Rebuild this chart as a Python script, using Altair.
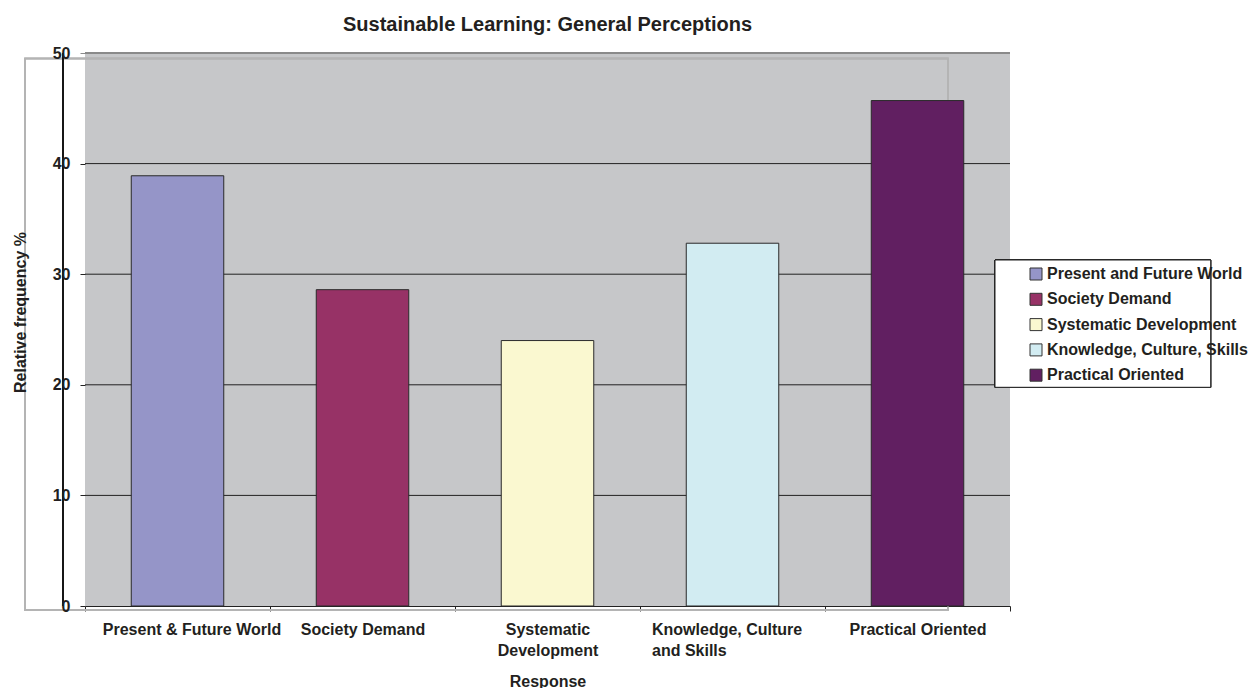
import altair as alt
import pandas as pd

# Survey responses: relative frequency (%) per response category
categories = [
    "Present & Future World",
    "Society Demand",
    "Systematic Development",
    "Knowledge, Culture and Skills",
    "Practical Oriented",
]
legend_names = [
    "Present and Future World",
    "Society Demand",
    "Systematic Development",
    "Knowledge, Culture, Skills",
    "Practical Oriented",
]
values = [38.9, 28.6, 24.0, 32.8, 45.7]
colors = ["#9595C8", "#973266", "#FAF8D0", "#D2ECF2", "#611F61"]
y_ticks = [0, 10, 20, 30, 40, 50]
grid_levels = [10, 20, 30, 40, 50]

# Axis labels that wrap onto two lines
wrapped = {
    "Systematic Development": ["Systematic", "Development"],
    "Knowledge, Culture and Skills": ["Knowledge, Culture", "and Skills"],
}

df = pd.DataFrame({"Response": categories, "Label": legend_names, "Frequency": values})
grid_df = pd.DataFrame({"Frequency": grid_levels})

FONT = "Liberation Sans"
INK = "#231F20"
W, H = 925, 553
FS = 16

label_expr = " : ".join(
    f"datum.value == '{k}' ? {v!r}" for k, v in wrapped.items()
) + " : datum.value"

is_first = "datum.value == 'Present & Future World'"
is_knowledge = "datum.value == 'Knowledge, Culture and Skills'"
is_top = "datum.value == 50"

y_scale = alt.Scale(domain=[0, 50], nice=False)
y_axis = alt.Axis(
    title="Relative frequency %",
    titleFont=FONT, titleFontSize=FS, titleFontWeight="bold", titleColor=INK,
    titleX=-60, titleY=259, titleAngle=-90, titleAlign="center",
    titleBaseline="alphabetic",
    values=y_ticks,
    labelFont=FONT, labelFontSize=FS, labelFontWeight="bold", labelColor=INK,
    labelPadding=10,
    domain=False, tickSize=5,
    tickColor=alt.condition(is_top, alt.value("#8a8a8a"), alt.value("#222")),
    grid=False,
    zindex=1,
)

# Horizontal gridlines, drawn beneath the bars
grid = alt.Chart(grid_df).mark_rule().encode(
    y=alt.Y("Frequency:Q", scale=y_scale, axis=y_axis, title="Relative frequency %"),
    color=alt.condition("datum.Frequency == 50", alt.value("#8a8a8a"), alt.value("#222")),
    strokeWidth=alt.condition("datum.Frequency == 50", alt.value(2), alt.value(1)),
)

bars = alt.Chart(df).mark_bar(
    stroke="#2a2a2a", strokeWidth=1, width=alt.RelativeBandSize(0.5)
).encode(
    x=alt.X(
        "Response:N",
        sort=categories,
        scale=alt.Scale(paddingInner=0, paddingOuter=0),
        axis=alt.Axis(
            title="Response",
            titleFont=FONT, titleFontSize=FS, titleFontWeight="bold", titleColor=INK,
            titleY=75, titleBaseline="middle",
            labelExpr=label_expr,
            labelAngle=0, labelFont=FONT, labelFontSize=FS, labelFontWeight="bold",
            labelColor=INK, labelPadding=10, labelLineHeight=21.5, labelLimit=300,
            labelBaseline="top",
            labelAlign=alt.condition(is_knowledge, alt.value("left"), alt.value("center")),
            labelOffset={
                "condition": [
                    {"test": is_first, "value": 14},
                    {"test": is_knowledge, "value": -81},
                ],
                "value": 0,
            },
            tickBand="extent", tickSize=5, tickColor="#222", domainColor="#222",
            grid=False,
        ),
    ),
    y=alt.Y("Frequency:Q", scale=y_scale, axis=y_axis, title="Relative frequency %"),
    color=alt.Color(
        "Label:N",
        scale=alt.Scale(domain=legend_names, range=colors),
        legend=alt.Legend(
            title=None,
            orient="none", legendX=943, legendY=213,
            padding=0,
            symbolType="square", symbolSize=144, symbolStrokeColor="#333",
            symbolStrokeWidth=1, symbolOpacity=1,
            labelFont=FONT, labelFontSize=FS, labelFontWeight="bold", labelColor=INK,
            labelOffset=3, rowPadding=9.3, labelLimit=300,
        ),
    ),
)

# Light outline frame behind the plot
frame = alt.Chart(df).mark_rect(fillOpacity=0, stroke="#b4b4b4", strokeWidth=1.5).encode(
    x=alt.value(-60), x2=alt.value(863), y=alt.value(5.5), y2=alt.value(557)
)

# White legend panel with a thin border
legend_box = alt.Chart(df).mark_rect(fill="white", stroke="#222", strokeWidth=1).encode(
    x=alt.value(910), x2=alt.value(1125.7), y=alt.value(207), y2=alt.value(334.3)
)

# Vertical value-axis line
axis_line = alt.Chart(df).mark_rule(color="#111", strokeWidth=1).encode(
    x=alt.value(-22), y=alt.value(0), y2=alt.value(H)
)

chart = alt.layer(grid, frame, bars, legend_box, axis_line).properties(
    width=W,
    height=H,
    background="white",
    title=alt.TitleParams(
        "Sustainable Learning: General Perceptions",
        font=FONT, fontSize=20, fontWeight="bold", color=INK, offset=10, anchor="middle",
    ),
    autosize=alt.AutoSizeParams(type="none"),
    padding={"left": 85, "top": 53, "right": 243, "bottom": 82},
).configure_view(fill="#C6C7C9", stroke=None)

chart.save("out.html", embed_options={"renderer": "svg", "actions": False})
